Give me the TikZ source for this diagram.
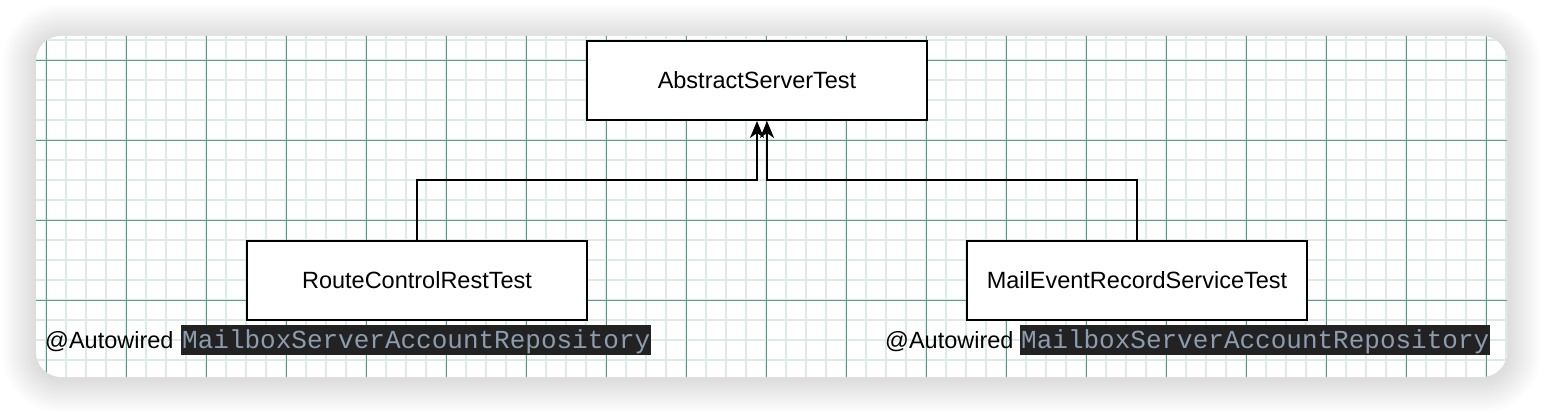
\documentclass[tikz,border=0pt]{standalone}
\usepackage{fontspec}
\setmainfont{Liberation Sans}
\newfontfamily\codefont{Liberation Mono}
\usetikzlibrary{arrows.meta}
\definecolor{gridminor}{HTML}{DCEBE6}
\definecolor{gridmajor}{HTML}{56A08A}
\definecolor{codebg}{HTML}{222222}
\definecolor{codefg}{HTML}{8C9CAE}
\tikzset{
  classbox/.style={draw=black, line width=2pt, fill=white, minimum width=340pt, minimum height=79pt, inner sep=0pt, font=\fontsize{23.5}{27}\selectfont},
  conn/.style={draw=black, line width=2pt, -{Stealth[length=17pt, width=14pt, inset=5pt]}},
  annot/.style={anchor=base west, inner sep=0pt, font=\fontsize{23.5}{27}\selectfont},
  codelbl/.style={anchor=base west, fill=codebg, text=codefg, inner xsep=1pt, inner ysep=0pt, text height=23pt, text depth=7pt, font=\codefont\fontsize{26}{30}\selectfont}
}
\begin{document}
\begin{tikzpicture}[x=1pt, y=-1pt]
\useasboundingbox (0,0) rectangle (1544,414);
\fill[white] (0,0) rectangle (1544,414);
% shadow
\foreach \i in {1,...,34}{
  \fill[black, opacity=0.0055, rounded corners={25pt+\i pt}] (36-\i,36-\i+2) rectangle (1507+\i,377+\i+2);
}
% card
\fill[white, rounded corners=25pt] (36,36) rectangle (1507,377);
\begin{scope}
  \clip[rounded corners=25pt] (36,36) rectangle (1507,377);
  \foreach \x in {26,46,...,1526} { \draw[gridminor, line width=1.4pt] (\x,30) -- (\x,390); }
  \foreach \y in {40,60,...,380} { \draw[gridminor, line width=1.4pt] (30,\y) -- (1520,\y); }
  \foreach \x in {46,126,...,1526} { \draw[gridmajor, line width=0.9pt] (\x,30) -- (\x,390); }
  \foreach \y in {60,140,...,380} { \draw[gridmajor, line width=0.9pt] (30,\y) -- (1520,\y); }
\end{scope}
% classes
\node[classbox] (abs) at (757,80.5) {AbstractServerTest};
\node[classbox] (route) at (417,280.5) {RouteControlRestTest};
\node[classbox] (mail) at (1137,280.5) {MailEventRecordServiceTest};
% connectors
\draw[conn] (route.north) -- (route.north |- 0,180) -| (abs.south);
\draw[conn] (mail.north) -- (mail.north |- 0,180) -| ([xshift=10pt]abs.south);
% annotations
\node[annot] (autoL) at (45,348) {@Autowired};
\node[codelbl] (repoL) at (181,348) {MailboxServerAccountRepository};
\node[annot] (autoR) at (885,348) {@Autowired};
\node[codelbl] (repoR) at (1020,348) {MailboxServerAccountRepository};
\end{tikzpicture}
\end{document}
